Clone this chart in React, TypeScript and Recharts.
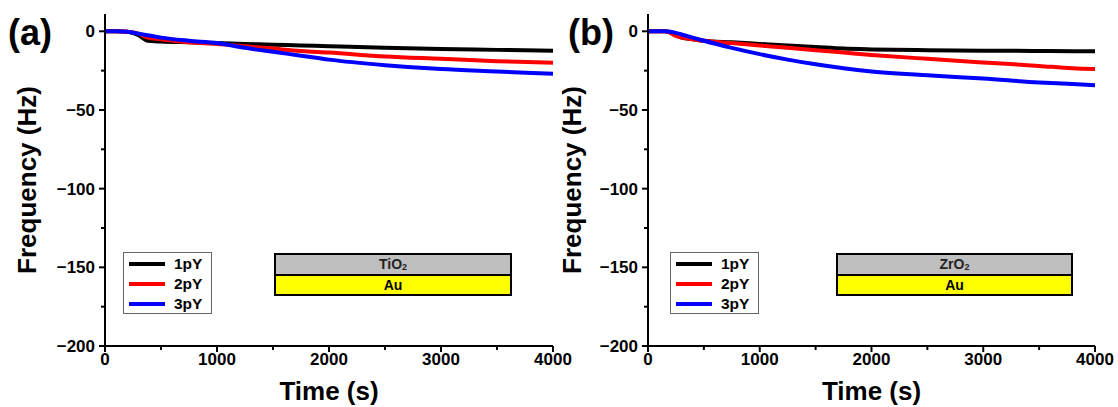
import React from 'react';
import { LineChart, Line, XAxis, YAxis, Legend, Label } from 'recharts';

// ---- data ----
const seriesNames = ['1pY', '2pY', '3pY'];
const seriesColors = ['#000000', '#ff0000', '#0000ff'];

const timeA = [0, 100, 200, 300, 380, 500, 750, 1000, 1250, 1500, 1750, 2000, 2500, 3000, 3500, 4000];
const tio2_1pY = [0, 0, -0.3, -2.5, -6, -6.5, -7, -7.5, -8, -8.5, -9, -9.5, -10.5, -11.3, -11.8, -12.3];
const tio2_2pY = [0, 0, -0.3, -1.5, -4, -5, -7, -8, -9.5, -11, -12.5, -13.5, -16, -17.5, -19, -20];
const tio2_3pY = [0, 0, -0.3, -1.5, -2.5, -4, -6, -7.5, -10.5, -13, -15.5, -18, -21.5, -24, -25.5, -27];

const timeB = [0, 150, 200, 250, 300, 400, 500, 750, 1000, 1250, 1500, 1750, 2000, 2500, 3000, 3500, 3800, 4000];
const zro2_1pY = [0, 0, -0.5, -2.5, -4, -5, -6, -7, -8, -9, -10, -11, -11.5, -12, -12.3, -12.5, -12.6, -12.7];
const zro2_2pY = [0, 0, -1, -3, -4, -5, -6, -7.5, -9, -10.5, -12, -13.5, -15, -17.5, -19.8, -22, -23.5, -24];
const zro2_3pY = [0, 0, -0.3, -1, -2, -4, -6, -10.5, -14.5, -18, -21, -23.5, -25.5, -28, -30, -32.5, -33.5, -34.3];

const xTicks = [0, 500, 1000, 1500, 2000, 2500, 3000, 3500, 4000];
const yTicks = [-200, -175, -150, -125, -100, -75, -50, -25, 0];
const xDomain = [0, 4000];
const yDomain = [-200, 11];

const FONT = '"Liberation Sans", Arial, Helvetica, sans-serif';

const build = (time: number[], s1: number[], s2: number[], s3: number[]) =>
  time.map((t, i) => ({ t, s1: s1[i], s2: s2[i], s3: s3[i] }));

const dataA = build(timeA, tio2_1pY, tio2_2pY, tio2_3pY);
const dataB = build(timeB, zro2_1pY, zro2_2pY, zro2_3pY);

const XTick = (props: any) => {
  const { x, y, payload } = props;
  const v = payload.value;
  const major = v % 1000 === 0;
  return (
    <g>
      <line x1={x} x2={x} y1={y} y2={y + (major ? 6 : 4)} stroke="#000" strokeWidth={2} />
      {major && (
        <text x={x} y={y + 19} textAnchor="middle" fontSize={17} fontWeight="bold" fontFamily={FONT} fill="#000">
          {v}
        </text>
      )}
    </g>
  );
};

const YTick = (props: any) => {
  const { x, y, payload } = props;
  const v = payload.value;
  const major = v % 50 === 0;
  return (
    <g>
      <line x1={x} x2={x - (major ? 6 : 4)} y1={y} y2={y} stroke="#000" strokeWidth={2} />
      {major && (
        <text x={x - 10} y={y + 6} textAnchor="end" fontSize={17} fontWeight="bold" fontFamily={FONT} fill="#000">
          {String(v).replace('-', '\u2212')}
        </text>
      )}
    </g>
  );
};

const LegendBox = (props: any) => {
  const payload = props.payload || [];
  return (
    <div
      style={{
        boxSizing: 'border-box',
        width: 89,
        height: 62,
        border: '1px solid #666',
        background: '#fff',
        paddingTop: 1,
      }}
    >
      {payload.map((p: any) => (
        <div key={p.value} style={{ display: 'flex', alignItems: 'center', height: 20 }}>
          <div style={{ width: 36, height: 4, background: p.color, marginLeft: 5 }} />
          <span style={{ marginLeft: 9, fontFamily: FONT, fontWeight: 'bold', fontSize: 15.5, color: '#000', lineHeight: '20px' }}>
            {p.value}
          </span>
        </div>
      ))}
    </div>
  );
};

type PanelProps = {
  left: number;
  width: number;
  margin: { top: number; right: number; bottom: number; left: number };
  data: any[];
  tag: string;
  tagLeft: number;
  ylabelX: number;
  legendLeft: number;
  boxLeft: number;
  boxWidth: number;
  oxide: string;
};

const Panel = (p: PanelProps) => (
  <div style={{ position: 'absolute', left: p.left, top: 0, width: p.width, height: 407 }}>
    <LineChart width={p.width} height={407} data={p.data} margin={p.margin}>
      <XAxis
        dataKey="t"
        type="number"
        domain={xDomain}
        ticks={xTicks}
        interval={0}
        height={40}
        tickSize={0}
        tickMargin={0}
        tickLine={false}
        axisLine={{ stroke: '#000', strokeWidth: 2 }}
        tick={<XTick />}
      >
        <Label
          content={(lp: any) => {
            const vb = lp.viewBox || { x: 0, y: 0, width: 0 };
            return (
              <text x={vb.x + vb.width / 2} y={vb.y + 54} textAnchor="middle" fontSize={26} fontWeight="bold" fontFamily={FONT} fill="#000">
                Time (s)
              </text>
            );
          }}
        />
      </XAxis>
      <XAxis xAxisId="top" orientation="top" dataKey="t" type="number" domain={xDomain} height={0} tick={false} tickLine={false} axisLine={{ stroke: '#000', strokeWidth: 2 }} />
      <YAxis
        type="number"
        domain={yDomain}
        ticks={yTicks}
        interval={0}
        width={60}
        allowDataOverflow
        tickSize={0}
        tickMargin={0}
        tickLine={false}
        axisLine={{ stroke: '#000', strokeWidth: 2 }}
        tick={<YTick />}
      >
        <Label
          content={() => (
            <text
              x={p.ylabelX}
              y={180}
              transform={`rotate(-90 ${p.ylabelX} 180)`}
              textAnchor="middle"
              dominantBaseline="central"
              fontSize={26}
              fontWeight="bold"
              fontFamily={FONT}
              fill="#000"
            >
              Frequency (Hz)
            </text>
          )}
        />
      </YAxis>
      <YAxis yAxisId="right" orientation="right" type="number" domain={yDomain} width={0} tick={false} tickLine={false} axisLine={{ stroke: '#000', strokeWidth: 2 }} />
      <Legend
        layout="vertical"
        align="center"
        verticalAlign="middle"
        content={<LegendBox />}
        wrapperStyle={{ left: p.legendLeft, top: 252, width: 89, height: 62 }}
      />
      {['s1', 's2', 's3'].map((k, i) => (
        <Line
          key={k}
          dataKey={k}
          name={seriesNames[i]}
          stroke={seriesColors[i]}
          strokeWidth={4}
          dot={false}
          type="monotone"
          isAnimationActive={false}
        />
      ))}
    </LineChart>
    <div
      style={{
        position: 'absolute',
        left: p.tagLeft,
        top: 15,
        fontFamily: FONT,
        fontWeight: 'bold',
        fontSize: 36,
        lineHeight: '36px',
        color: '#000',
      }}
    >
      {p.tag}
    </div>
    <div
      style={{
        position: 'absolute',
        left: p.boxLeft,
        top: 253,
        width: p.boxWidth,
        height: 43,
        boxSizing: 'border-box',
        border: '2px solid #000',
        fontFamily: FONT,
      }}
    >
      <div
        style={{
          height: 19,
          background: '#bfbfbf',
          borderBottom: '2px solid #000',
          textAlign: 'center',
          fontSize: 14,
          lineHeight: '19px',
          color: '#222',
          fontWeight: 600,
        }}
      >
        {p.oxide}
        <span style={{ fontSize: 9, verticalAlign: -1 }}>2</span>
      </div>
      <div
        style={{
          height: 18,
          background: '#ffff00',
          textAlign: 'center',
          fontSize: 14,
          lineHeight: '18px',
          fontWeight: 'bold',
          color: '#000',
        }}
      >
        Au
      </div>
    </div>
  </div>
);

export default function App() {
  return (
    <div style={{ position: 'absolute', left: 0, top: 0, width: 1118, height: 407, overflow: 'hidden', background: '#fff' }}>
      <Panel
        left={0}
        width={600}
        margin={{ top: 14, right: 47, bottom: 21, left: 45 }}
        data={dataA}
        tag="(a)"
        tagLeft={8}
        ylabelX={27}
        legendLeft={123}
        boxLeft={274}
        boxWidth={238}
        oxide="TiO"
      />
      <Panel
        left={540}
        width={578}
        margin={{ top: 14, right: 23, bottom: 21, left: 48 }}
        data={dataB}
        tag="(b)"
        tagLeft={28}
        ylabelX={32}
        legendLeft={130}
        boxLeft={296}
        boxWidth={237}
        oxide="ZrO"
      />
    </div>
  );
}
